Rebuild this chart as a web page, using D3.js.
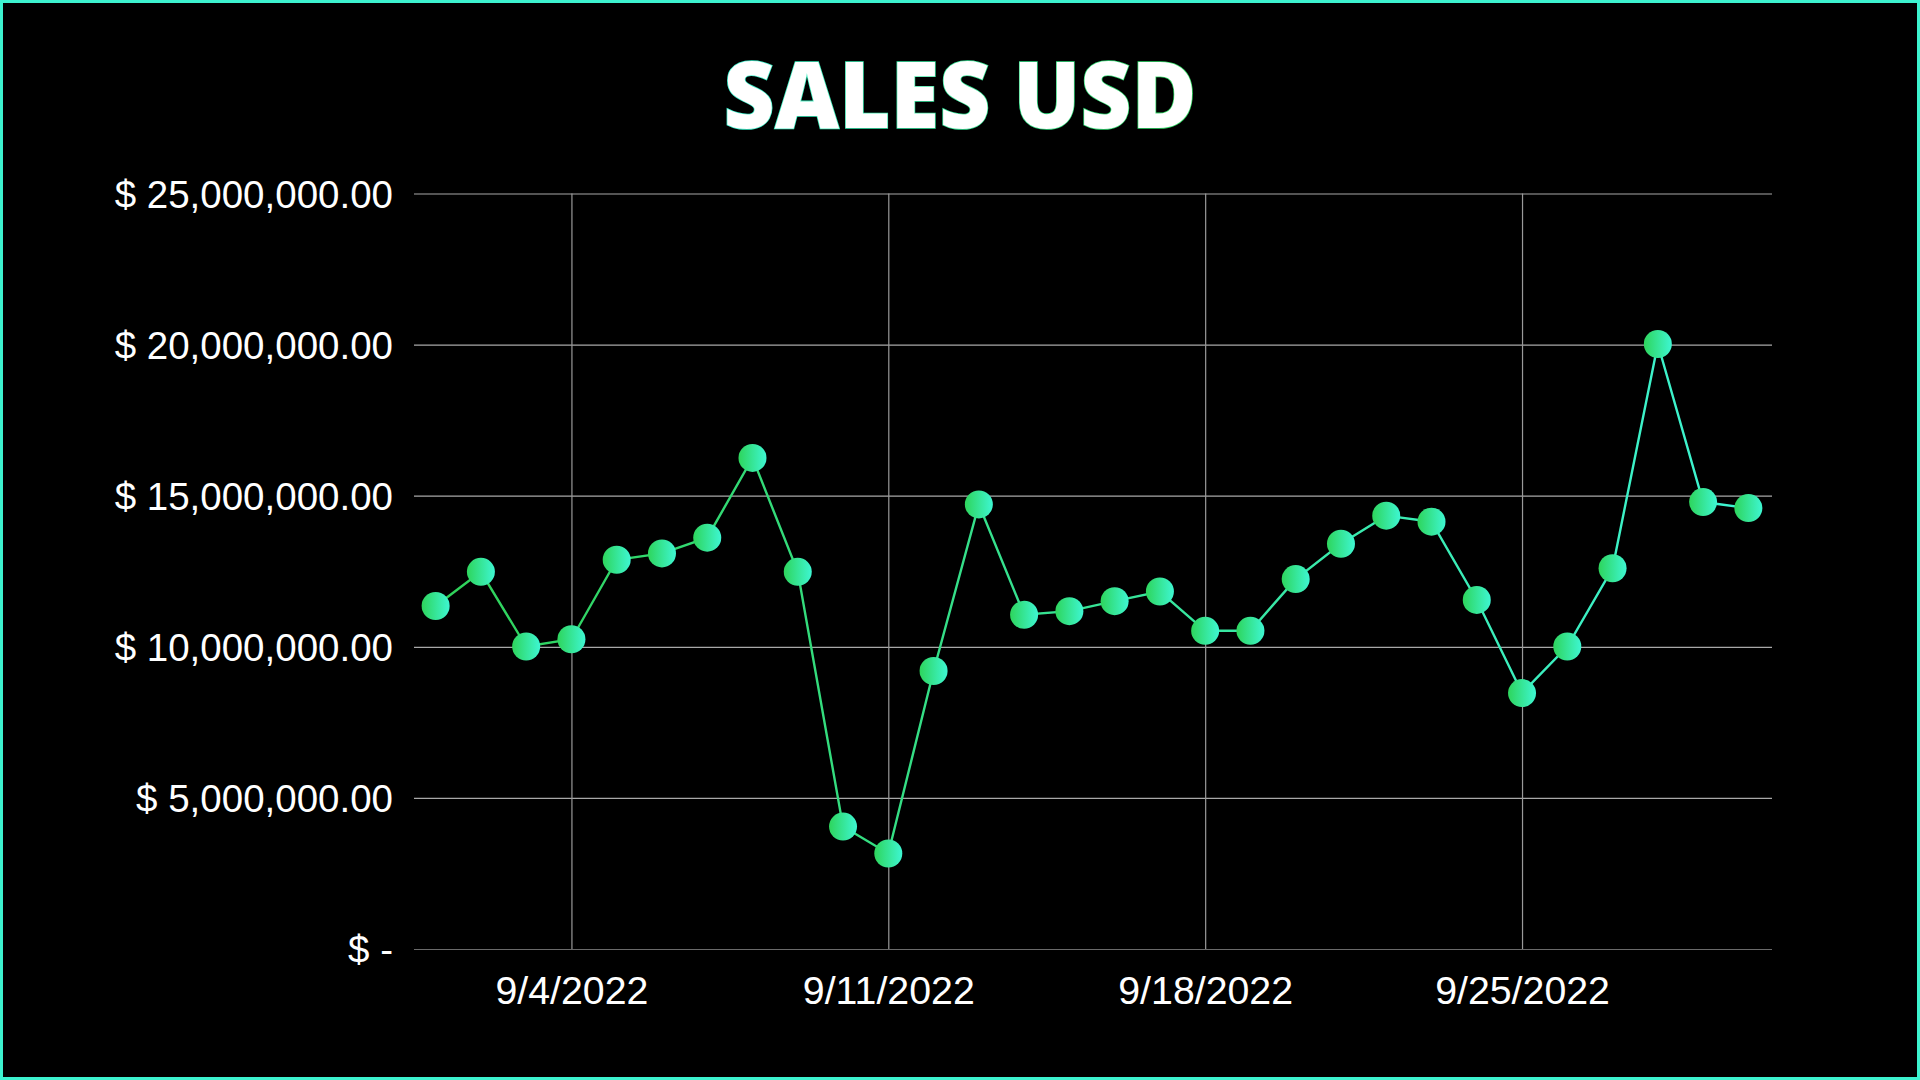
<!DOCTYPE html>
<html><head><meta charset="utf-8">
<script src="https://cdn.jsdelivr.net/npm/d3@7"></script>
<style>html,body{margin:0;padding:0;background:#000;}svg{display:block;}</style>
</head><body>
<svg id="c" width="1920" height="1080"></svg>
<script>
const title = "SALES USD";
const dates = ["2022-09-01","2022-09-02","2022-09-03","2022-09-04","2022-09-05","2022-09-06","2022-09-07","2022-09-08","2022-09-09","2022-09-10",
"2022-09-11","2022-09-12","2022-09-13","2022-09-14","2022-09-15","2022-09-16","2022-09-17","2022-09-18","2022-09-19","2022-09-20",
"2022-09-21","2022-09-22","2022-09-23","2022-09-24","2022-09-25","2022-09-26","2022-09-27","2022-09-28","2022-09-29","2022-09-30"];
const sales = [11350000,12480000,10010000,10250000,12880000,13090000,13610000,16250000,12480000,4050000,
3160000,9200000,14710000,11060000,11180000,11510000,11830000,10530000,10530000,12240000,
13410000,14340000,14140000,11550000,8470000,10010000,12600000,20020000,14790000,14590000];
const yTicks = [0,5000000,10000000,15000000,20000000,25000000];
const xTickDates = ["2022-09-04","2022-09-11","2022-09-18","2022-09-25"];

const parse = d3.timeParse("%Y-%m-%d");
const data = dates.map((d,i)=>({date: parse(d), value: sales[i]}));
const svg = d3.select("#c");
const W=1920,H=1080;
const m = {left:414, right:1772, top:193.5, bottom:949};

const defs = svg.append("defs");
const lg = defs.append("linearGradient").attr("id","lineG").attr("gradientUnits","userSpaceOnUse")
  .attr("x1",m.left).attr("x2",m.right).attr("y1",0).attr("y2",0);
lg.append("stop").attr("offset","0%").attr("stop-color","#2fd157");
lg.append("stop").attr("offset","100%").attr("stop-color","#3ef5d4");
const mg = defs.append("linearGradient").attr("id","mkG").attr("x1","0%").attr("x2","100%").attr("y1","0%").attr("y2","0%");
mg.append("stop").attr("offset","0%").attr("stop-color","#2ed55c");
mg.append("stop").attr("offset","100%").attr("stop-color","#3ef6d2");
const tg = defs.append("linearGradient").attr("id","titleG").attr("x1","0%").attr("x2","100%");
tg.append("stop").attr("offset","0%").attr("stop-color","#3ef0d0");
tg.append("stop").attr("offset","100%").attr("stop-color","#2ed55c");

svg.append("rect").attr("x",0).attr("y",0).attr("width",W).attr("height",H).attr("fill","#000");
svg.append("rect").attr("x",1.5).attr("y",1.5).attr("width",W-3).attr("height",H-3)
  .attr("fill","none").attr("stroke","#3df2cf").attr("stroke-width",3);

const x0 = d3.timeHour.offset(data[0].date,-12);
const x1 = d3.timeHour.offset(data[data.length-1].date,12);
const x = d3.scaleTime().domain([x0,x1]).range([m.left,m.right]);
const y = d3.scaleLinear().domain([0,25000000]).range([m.bottom,m.top]);

// horizontal grid
const yAxis = d3.axisLeft(y).tickValues(yTicks).tickSize(-(m.right-m.left)).tickPadding(21)
  .tickFormat(v => v===0 ? "$ -" : "$ " + d3.format(",.2f")(v));
const gy = svg.append("g").attr("transform",`translate(${m.left},0)`).call(yAxis);
gy.select(".domain").remove();
gy.selectAll(".tick line").attr("stroke",d=>d===0?"#6a6a6a":"#a8a8a8").attr("stroke-width",1.2);
gy.selectAll(".tick text").attr("fill","#fff").attr("font-family","'Liberation Sans',Arial,sans-serif")
  .attr("font-size",38.5).attr("dy","0.36em");

// vertical grid
const xAxis = d3.axisBottom(x).tickValues(xTickDates.map(parse)).tickSize(-(m.bottom-m.top)).tickPadding(27)
  .tickFormat(d3.timeFormat("%-m/%-d/%Y"));
const gx = svg.append("g").attr("transform",`translate(-1,${m.bottom})`).call(xAxis);
gx.select(".domain").remove();
gx.selectAll(".tick line").attr("stroke","#9a9a9a").attr("stroke-width",1.2);
gx.selectAll(".tick text").attr("fill","#fff").attr("font-family","'Liberation Sans',Arial,sans-serif")
  .attr("font-size",39.3).attr("dy","0.71em");

// line
const line = d3.line().x(d=>x(d.date)).y(d=>y(d.value));
svg.append("path").datum(data).attr("d",line).attr("fill","none").attr("transform","translate(-1,0)")
  .attr("stroke","url(#lineG)").attr("stroke-width",2.4);

svg.append("g").attr("transform","translate(-1,0)").selectAll("circle").data(data).join("circle")
  .attr("cx",d=>x(d.date)).attr("cy",d=>y(d.value)).attr("r",14)
  .attr("fill","url(#mkG)");

// title
svg.append("text").attr("x",960).attr("y",128).attr("text-anchor","middle")
  .attr("font-family","'Open Sans',sans-serif").attr("font-weight",800).attr("font-size",93)
  .attr("textLength",473).attr("lengthAdjust","spacingAndGlyphs")
  .attr("fill","#fff").attr("stroke","url(#titleG)").attr("stroke-width",1.6).attr("paint-order","stroke")
  .text(title);
</script>
</body></html>
